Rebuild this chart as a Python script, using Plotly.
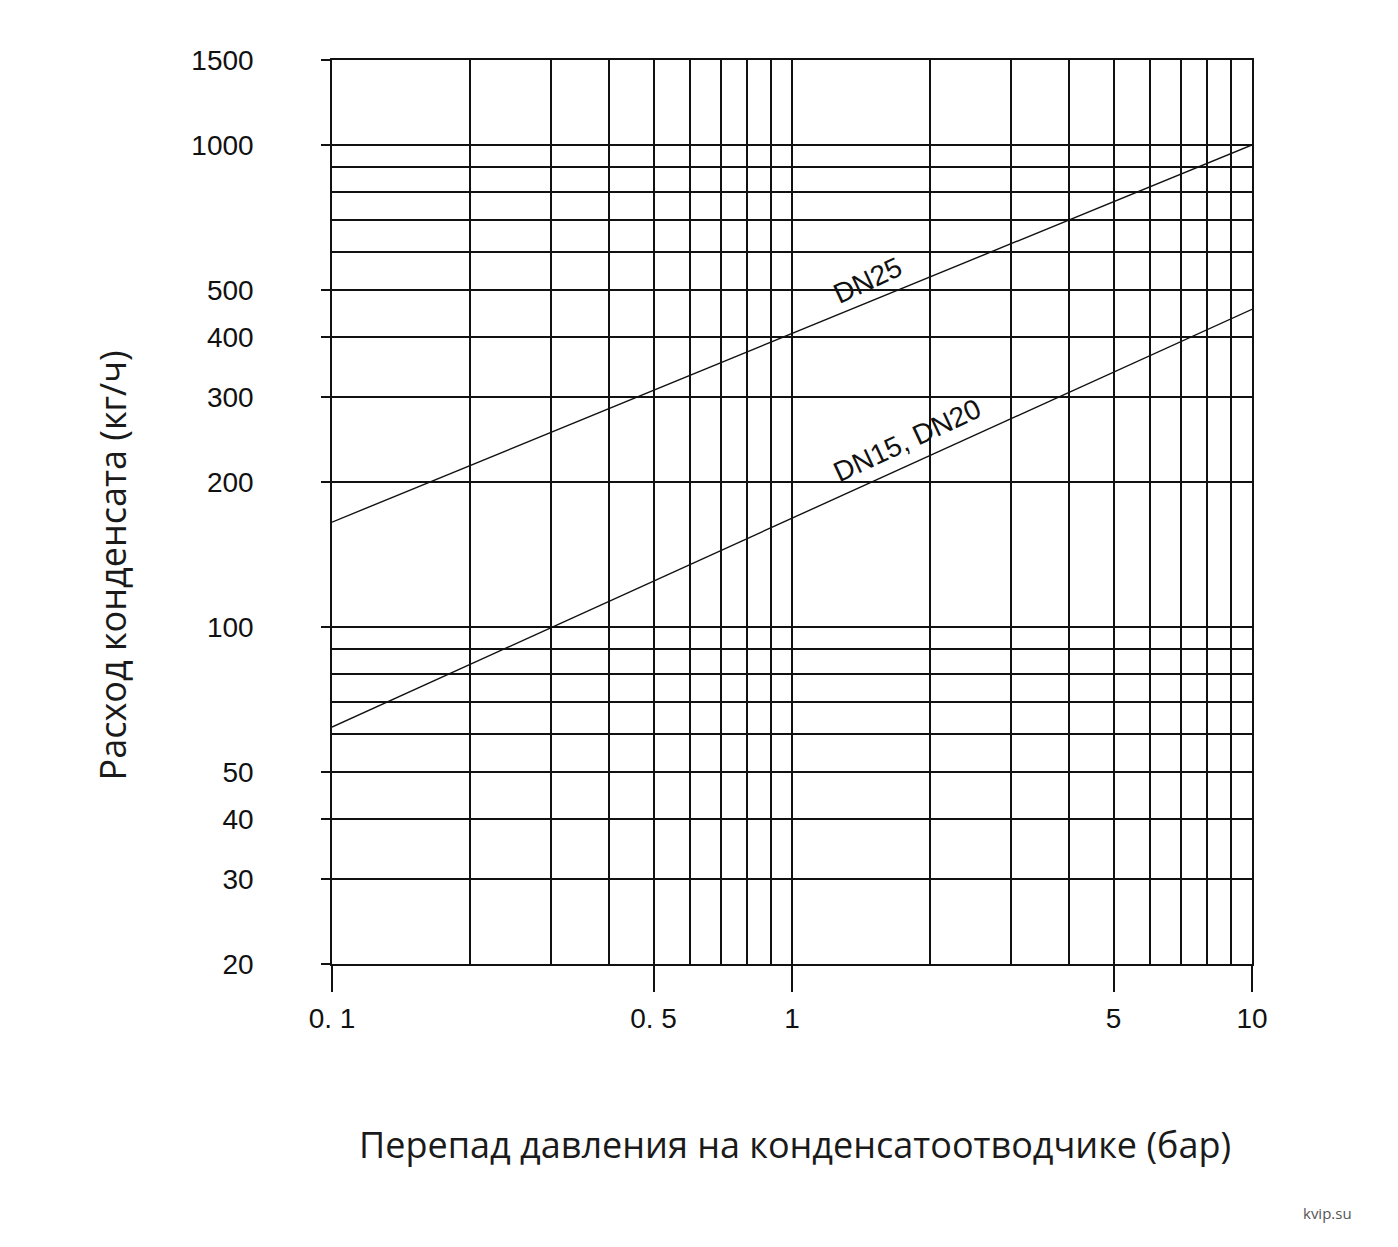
import plotly.graph_objects as go
import math

# ---- data ----
pressure = [0.1, 1, 10]                 # bar
flow_dn25 = [165, 406, 1000]            # kg/h
flow_dn15_20 = [62, 168, 456]           # kg/h

x_tick_vals = [0.1, 0.5, 1, 5, 10]
x_tick_text = ["0. 1", "0. 5", "1", "5", "10"]
x_minor_vals = [0.2, 0.3, 0.4, 0.6, 0.7, 0.8, 0.9, 2, 3, 4, 6, 7, 8, 9]

y_tick_vals = [20, 30, 40, 50, 100, 200, 300, 400, 500, 1000, 1500]
y_tick_text = ["20", "30", "40", "50", "100", "200", "300", "400", "500", "1000", "1500"]
y_minor_vals = [60, 70, 80, 90, 600, 700, 800, 900]

x_title = "Перепад давления на конденсатоотводчике (бар)"
y_title = "Расход конденсата (кг/ч)"
label_dn25 = "DN25"
label_dn15_20 = "DN15, DN20"
source = "kvip.su"

fig = go.Figure()
fig.add_trace(go.Scatter(x=pressure, y=flow_dn25, mode="lines",
                         line=dict(color="#111", width=1.4), showlegend=False))
fig.add_trace(go.Scatter(x=pressure, y=flow_dn15_20, mode="lines",
                         line=dict(color="#111", width=1.4), showlegend=False))

tick_font = dict(family="Liberation Sans, Arial", size=28, color="#111")

fig.update_xaxes(
    type="log", range=[math.log10(0.1), math.log10(10)],
    tickmode="array", tickvals=x_tick_vals, ticktext=x_tick_text,
    ticks="outside", ticklen=26, tickwidth=1.5, tickcolor="#111",
    showgrid=True, gridcolor="#111", gridwidth=1.5,
    minor=dict(tickmode="array", tickvals=x_minor_vals, showgrid=True,
               gridcolor="#111", gridwidth=1.5, ticks=""),
    showline=True, linecolor="#111", linewidth=1.5, mirror=True,
    zeroline=False, tickfont=tick_font, ticklabelstandoff=3,
)
fig.update_yaxes(
    type="log", range=[math.log10(20), math.log10(1500)],
    tickmode="array", tickvals=y_tick_vals, ticktext=y_tick_text,
    ticks="outside", ticklen=9, tickwidth=1.5, tickcolor="#111",
    showgrid=True, gridcolor="#111", gridwidth=1.5,
    minor=dict(tickmode="array", tickvals=y_minor_vals, showgrid=True,
               gridcolor="#111", gridwidth=1.5, ticks=""),
    showline=True, linecolor="#111", linewidth=1.5, mirror=True,
    zeroline=False, tickfont=tick_font, ticklabelstandoff=62,
)

label_font = dict(family="Liberation Sans, Arial", size=28, color="#111")
fig.add_annotation(x=math.log10(1.46), y=math.log10(471), text=label_dn25,
                   showarrow=False, textangle=-25, yshift=22, font=label_font)
fig.add_annotation(x=math.log10(1.78), y=math.log10(215), text=label_dn15_20,
                   showarrow=False, textangle=-25, yshift=26, font=label_font)

title_font = dict(family="Open Sans", size=36, color="#1a1a1a")
fig.add_annotation(xref="paper", yref="paper", x=0.503, y=-0.2002, text=x_title,
                   showarrow=False, font=title_font, xanchor="center", yanchor="middle")
fig.add_annotation(xref="paper", yref="paper", x=-0.239, y=0.441, text=y_title,
                   showarrow=False, font=title_font, textangle=-90,
                   xanchor="center", yanchor="middle")
fig.add_annotation(xref="paper", yref="paper", x=1.0826, y=-0.2754, text=source,
                   showarrow=False, font=dict(family="Open Sans", size=15, color="#555"),
                   xanchor="center", yanchor="middle")

fig.update_layout(
    width=1398, height=1247,
    margin=dict(l=324, r=154, t=52, b=291),
    paper_bgcolor="white", plot_bgcolor="white",
)

fig.write_html("out.html")
